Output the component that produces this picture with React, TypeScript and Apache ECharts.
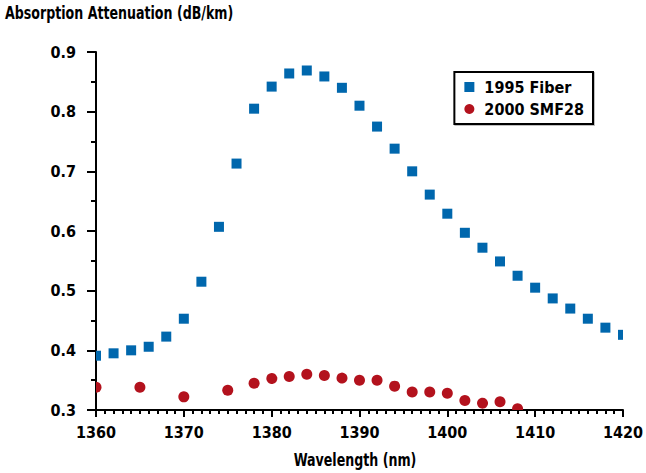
import React, { useEffect, useRef } from "react";
import * as echarts from "echarts";

// Wavelength (nm) and attenuation (dB/km) for each fiber
const fiber1995Wavelength = [
  1360, 1362, 1364, 1366, 1368, 1370, 1372, 1374, 1376, 1378, 1380, 1382, 1384, 1386, 1388, 1390,
  1392, 1394, 1396, 1398, 1400, 1402, 1404, 1406, 1408, 1410, 1412, 1414, 1416, 1418, 1420,
];
const fiber1995Attenuation = [
  0.391, 0.395, 0.4, 0.406, 0.423, 0.453, 0.515, 0.607, 0.713, 0.805, 0.842, 0.864, 0.869, 0.859,
  0.84, 0.81, 0.775, 0.738, 0.7, 0.661, 0.629, 0.597, 0.572, 0.549, 0.525, 0.505, 0.487, 0.47,
  0.453, 0.438, 0.426,
];
const smf28Wavelength = [
  1360, 1365, 1370, 1375, 1378, 1380, 1382, 1384, 1386, 1388, 1390, 1392, 1394, 1396, 1398, 1400,
  1402, 1404, 1406, 1408,
];
const smf28Attenuation = [
  0.338, 0.338, 0.322, 0.333, 0.345, 0.355, 0.356, 0.36, 0.358, 0.355, 0.35, 0.35, 0.34, 0.33,
  0.33, 0.328, 0.316, 0.313, 0.314, 0.302,
];
const seriesNames = ["1995 Fiber", "2000 SMF28"];
const yAxisTitle = "Absorption Attenuation (dB/km)";
const xAxisTitle = "Wavelength (nm)";

const BLUE = "#0067ad";
const RED = "#b3121d";
const FONT = "'DejaVu Sans Condensed', 'Liberation Sans Narrow', 'Roboto', sans-serif";
// condensed headline type: squeeze the bold face horizontally
const HEAD_FONT = "bold 18px 'DejaVu Sans Condensed', 'Roboto', sans-serif";
const SQUEEZE = 0.78;

export default function App() {
  const ref = useRef<HTMLDivElement>(null);

  useEffect(() => {
    if (!ref.current) return;
    const chart = echarts.init(ref.current, undefined, { renderer: "svg" });

    const squareItem = (_params: any, api: any) => {
      const p = api.coord([api.value(0), api.value(1)]);
      return {
        type: "rect",
        shape: { x: p[0] - 5, y: p[1] - 5, width: 10, height: 10 },
        style: { fill: BLUE },
      };
    };
    const circleItem = (_params: any, api: any) => {
      const p = api.coord([api.value(0), api.value(1)]);
      return {
        type: "circle",
        shape: { cx: p[0], cy: p[1], r: 5.5 },
        style: { fill: RED },
      };
    };

    chart.setOption({
      animation: false,
      backgroundColor: "#ffffff",
      textStyle: { fontFamily: FONT, fontWeight: "bold", color: "#000" },
      graphic: [
        {
          type: "text",
          x: 5,
          y: 4,
          scaleX: SQUEEZE,
          style: { text: yAxisTitle, font: HEAD_FONT, fill: "#000", textAlign: "left", textVerticalAlign: "top" },
        },
        {
          type: "text",
          x: 355,
          y: 451,
          scaleX: SQUEEZE,
          style: { text: xAxisTitle, font: HEAD_FONT, fill: "#000", textAlign: "center", textVerticalAlign: "top" },
        },
      ],
      legend: {
        orient: "vertical",
        right: 53,
        top: 72,
        padding: [7, 9, 7, 10],
        itemGap: 6,
        itemWidth: 10,
        itemHeight: 10,
        borderColor: "#000",
        borderWidth: 2,
        borderRadius: 0,
        shadowColor: "rgba(0,0,0,0.25)",
        shadowBlur: 0,
        shadowOffsetX: 1,
        shadowOffsetY: 1,
        backgroundColor: "#fff",
        textStyle: {
          fontFamily: FONT,
          fontWeight: "bold",
          fontSize: 16,
          color: "#000",
          padding: [0, 0, 0, 5],
        },
        data: [
          { name: seriesNames[0], icon: "rect", itemStyle: { color: BLUE } },
          { name: seriesNames[1], icon: "circle", itemStyle: { color: RED } },
        ],
      },
      grid: { left: 96, top: 52, width: 528, height: 358, containLabel: false },
      xAxis: {
        type: "value",
        min: 1360,
        max: 1420,
        interval: 10,
        axisLine: { show: true, onZero: false, lineStyle: { color: "#000", width: 2 } },
        axisTick: { show: true, length: 7, lineStyle: { color: "#000", width: 2 } },
        minorTick: { show: true, splitNumber: 10, length: 4, lineStyle: { color: "#000", width: 2 } },
        axisLabel: {
          margin: 14,
          fontFamily: FONT,
          fontWeight: "bold",
          fontSize: 16,
          color: "#000",
          formatter: (v: number) => String(v),
        },
        splitLine: { show: false },
      },
      yAxis: {
        type: "value",
        min: 0.3,
        max: 0.9,
        interval: 0.1,
        axisLine: { show: true, onZero: false, lineStyle: { color: "#000", width: 2 } },
        axisTick: { show: true, length: 9, lineStyle: { color: "#000", width: 2 } },
        minorTick: { show: true, splitNumber: 2, length: 5, lineStyle: { color: "#000", width: 2 } },
        axisLabel: {
          margin: 20,
          fontFamily: FONT,
          fontWeight: "bold",
          fontSize: 16,
          color: "#000",
          formatter: (v: number) => v.toFixed(1),
        },
        splitLine: { show: false },
      },
      series: [
        {
          name: seriesNames[0],
          type: "custom",
          clip: true,
          itemStyle: { color: BLUE },
          renderItem: squareItem,
          encode: { x: 0, y: 1 },
          data: fiber1995Wavelength.map((w, i) => [w, fiber1995Attenuation[i]]),
        },
        {
          name: seriesNames[1],
          type: "custom",
          clip: true,
          itemStyle: { color: RED },
          renderItem: circleItem,
          encode: { x: 0, y: 1 },
          data: smf28Wavelength.map((w, i) => [w, smf28Attenuation[i]]),
        },
      ],
    });

    return () => chart.dispose();
  }, []);

  return (
    <div
      ref={ref}
      style={{ width: 646, height: 473, position: "fixed", left: 0, top: 0, background: "#fff" }}
    />
  );
}
